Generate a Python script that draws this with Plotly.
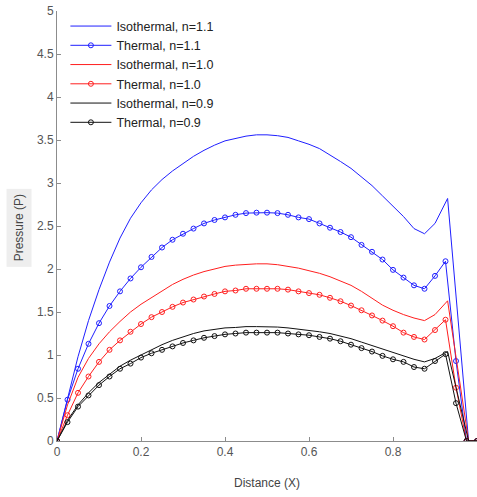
import plotly.graph_objects as go

# Grid of the thermal solutions (markers at every node)
thermal_x = [0.0, 0.025, 0.05, 0.075, 0.1, 0.125, 0.15, 0.175, 0.2, 0.225,
             0.25, 0.275, 0.3, 0.325, 0.35, 0.375, 0.4, 0.425, 0.45, 0.475,
             0.5, 0.525, 0.55, 0.575, 0.6, 0.625, 0.65, 0.675, 0.7, 0.725,
             0.75, 0.775, 0.8, 0.825, 0.85, 0.875, 0.9, 0.925, 0.95, 0.975,
             1.0]

# Grid of the isothermal solutions
iso_x = [0.0, 0.025, 0.05, 0.075, 0.1, 0.125, 0.15, 0.175, 0.2, 0.225,
         0.25, 0.275, 0.3, 0.325, 0.35, 0.375, 0.4, 0.425, 0.45, 0.475,
         0.5, 0.525, 0.55, 0.575, 0.6, 0.625, 0.65, 0.675, 0.7, 0.725,
         0.75, 0.775, 0.8, 0.825, 0.85, 0.875,
         0.9, 0.93, 0.98, 1.0]

iso_n11 = [0, 0.50, 0.98, 1.40, 1.76, 2.08, 2.36, 2.59, 2.77, 2.92,
           3.04, 3.14, 3.23, 3.31, 3.38, 3.44, 3.49, 3.52, 3.545, 3.56,
           3.56, 3.55, 3.53, 3.49, 3.45, 3.40, 3.33, 3.25, 3.17, 3.07,
           2.97, 2.85, 2.73, 2.61, 2.47, 2.41,
           2.53, 2.82, 0.0, 0.0]

thermal_n11 = [0, 0.48, 0.84, 1.13, 1.37, 1.57, 1.74, 1.89, 2.02, 2.14,
               2.25, 2.34, 2.41, 2.47, 2.53, 2.57, 2.60, 2.63, 2.65, 2.655,
               2.655, 2.65, 2.63, 2.60, 2.58, 2.53, 2.48, 2.43, 2.37, 2.28,
               2.20, 2.11, 1.99, 1.90, 1.81, 1.77, 1.92, 2.09, 0.93, 0.0,
               0.0]

iso_n10 = [0, 0.42, 0.74, 0.96, 1.13, 1.27, 1.39, 1.50, 1.59, 1.67,
           1.75, 1.82, 1.88, 1.93, 1.97, 2.00, 2.03, 2.045, 2.055, 2.06,
           2.06, 2.05, 2.03, 2.01, 1.98, 1.95, 1.91, 1.86, 1.81, 1.74,
           1.66, 1.58, 1.52, 1.47, 1.43, 1.40,
           1.47, 1.63, 0.0, 0.0]

thermal_n10 = [0, 0.30, 0.56, 0.75, 0.92, 1.06, 1.17, 1.27, 1.36, 1.44,
               1.50, 1.56, 1.61, 1.645, 1.68, 1.71, 1.74, 1.75, 1.77, 1.77,
               1.77, 1.77, 1.76, 1.74, 1.72, 1.70, 1.665, 1.625, 1.575, 1.52,
               1.46, 1.40, 1.335, 1.26, 1.21, 1.18, 1.29, 1.41, 0.62, 0.0,
               0.0]

iso_n09 = [0, 0.24, 0.42, 0.56, 0.68, 0.78, 0.87, 0.94, 1.00, 1.06,
           1.12, 1.17, 1.21, 1.25, 1.28, 1.30, 1.315, 1.32, 1.33, 1.33,
           1.33, 1.325, 1.315, 1.30, 1.29, 1.27, 1.25, 1.22, 1.19, 1.15,
           1.11, 1.07, 1.03, 0.99, 0.95, 0.92,
           0.96, 1.04, 0.0, 0.0]

thermal_n09 = [0, 0.22, 0.40, 0.53, 0.65, 0.75, 0.84, 0.90, 0.97, 1.02,
               1.06, 1.10, 1.14, 1.17, 1.20, 1.22, 1.24, 1.25, 1.26, 1.26,
               1.26, 1.26, 1.25, 1.24, 1.23, 1.21, 1.19, 1.16, 1.12, 1.08,
               1.04, 0.99, 0.95, 0.92, 0.86, 0.84, 0.93, 1.01, 0.44, 0.0,
               0.0]

x_ticks = [0, 0.2, 0.4, 0.6, 0.8, 1]
y_ticks = [0, 0.5, 1, 1.5, 2, 2.5, 3, 3.5, 4, 4.5, 5]

series = [
    ("Isothermal, n=1.1", iso_x, iso_n11, "#1f1fff", False),
    ("Thermal, n=1.1", thermal_x, thermal_n11, "#1f1fff", True),
    ("Isothermal, n=1.0", iso_x, iso_n10, "#ff1f1f", False),
    ("Thermal, n=1.0", thermal_x, thermal_n10, "#ff1f1f", True),
    ("Isothermal, n=0.9", iso_x, iso_n09, "#111111", False),
    ("Thermal, n=0.9", thermal_x, thermal_n09, "#111111", True),
]

fig = go.Figure()
for name, xs, ys, color, with_markers in series:
    fig.add_trace(go.Scatter(
        x=xs, y=ys, name=name,
        mode="lines+markers" if with_markers else "lines",
        line=dict(color=color, width=1),
        marker=dict(symbol="circle-open", size=5, color=color,
                    line=dict(width=1, color=color)),
    ))

axis_common = dict(
    showgrid=False, zeroline=False, showline=True,
    linecolor="#8c8c8c", linewidth=1,
    ticks="inside", ticklen=4, tickcolor="#8c8c8c",
    tickfont=dict(family="Liberation Sans, Arial, sans-serif", size=12,
                  color="#555555"),
)

fig.update_layout(
    width=477, height=497,
    margin=dict(l=57, r=0, t=11, b=56),
    paper_bgcolor="white", plot_bgcolor="white",
    font=dict(family="Liberation Sans, Arial, sans-serif", color="#333333"),
    xaxis=dict(range=[0, 1], tickvals=x_ticks,
               ticktext=[f"{v:g}" for v in x_ticks],
               title=dict(text="Distance (X)", standoff=20,
                          font=dict(size=12, color="#444444")),
               **axis_common),
    yaxis=dict(range=[0, 5], tickvals=y_ticks,
               ticktext=[f"{v:g}" for v in y_ticks],
               **axis_common),
    legend=dict(x=0.02, y=0.999, xanchor="left", yanchor="top",
                bgcolor="rgba(255,255,255,0)", borderwidth=0,
                font=dict(size=12.5, color="#222222"),
                tracegroupgap=0, itemwidth=41),
    showlegend=True,
)

# Rotated y-axis title on a light grey patch
fig.add_annotation(
    text="Pressure (P)", textangle=-90,
    xref="paper", yref="paper", x=-0.09, y=0.495,
    xanchor="center", yanchor="middle", showarrow=False,
    font=dict(size=12, color="#444444"),
    bgcolor="#eeeeee", borderpad=5,
)

fig.write_html("out.html")
